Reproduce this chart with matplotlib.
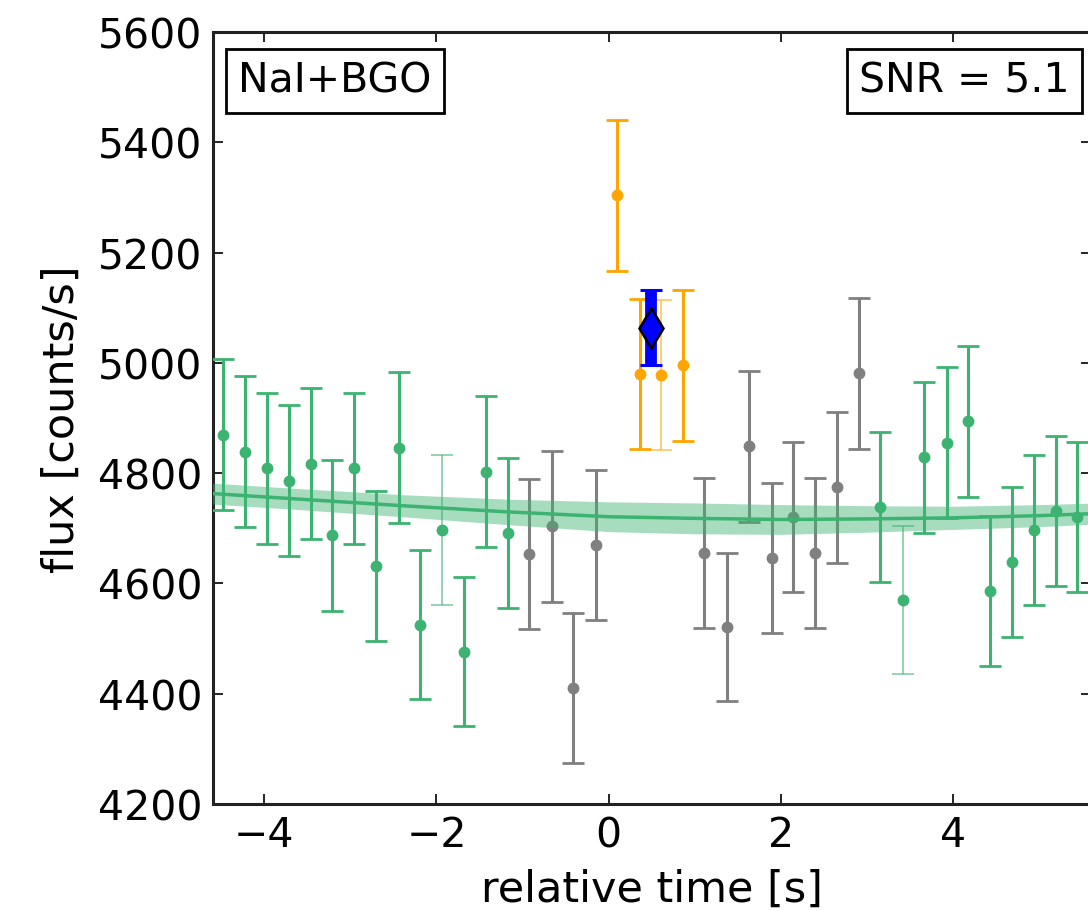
import matplotlib
matplotlib.use("Agg")
import matplotlib.pyplot as plt
from matplotlib.colors import to_rgba
import numpy as np

GREEN = "#3cb371"
GRAY = "#808080"
ORANGE = "#ffa500"
BLUE = "#0000ff"

# background bins before the source window (green)
t_pre = [-4.48, -4.22, -3.97, -3.71, -3.46, -3.21, -2.96, -2.70, -2.44,
         -2.19, -1.93, -1.68, -1.43, -1.17]
f_pre = [4870, 4839, 4809, 4786, 4817, 4687, 4809, 4632, 4846,
         4525, 4697, 4476, 4803, 4691]

# excluded bins (gray)
t_gap = [-0.92, -0.66, -0.41, -0.15, 1.11, 1.37, 1.63, 1.89, 2.14, 2.39, 2.65, 2.90]
f_gap = [4653, 4704, 4410, 4670, 4656, 4521, 4849, 4647, 4721, 4655, 4774, 4981]

# source bins (orange)
t_src = [0.10, 0.36, 0.61, 0.86]
f_src = [5304, 4980, 4978, 4996]

# background bins after the source window (green)
t_post = [3.15, 3.41, 3.66, 3.92, 4.17, 4.43, 4.68, 4.93, 5.19, 5.44]
f_post = [4739, 4570, 4829, 4855, 4894, 4586, 4638, 4697, 4731, 4721]

# per-bin error, counts/s
err_pre = [137, 137, 137, 137, 137, 137, 137, 136, 137, 135, 136, 135, 137, 136]
err_gap = [136, 137, 136, 136, 136, 135, 137, 136, 136, 136, 137, 137]
err_src = [137, 136, 136, 137]
err_post = [136, 134, 137, 137, 137, 136, 136, 136, 136, 136]

# combined source point (blue diamond)
t_comb = [0.49]
f_comb = [5064]
err_comb = [68]

# fitted background model
t_bkg = [-4.7, -3.6, -2.4, -1.2, 0.0, 1.0, 2.0, 3.0, 4.0, 5.0, 5.7]
f_bkg = [4764, 4753, 4741, 4730, 4721, 4718, 4716, 4717, 4719, 4723, 4727]
w_bkg = [19, 19, 20, 23, 27, 28, 27, 24, 21, 20, 19]

# bins drawn with a faint bar in the original
faint = {("pre", 10), ("src", 2), ("post", 1)}

fig = plt.figure(figsize=(10.88, 9.12), dpi=100)
ax = fig.add_axes([0.196, 0.1173, 0.807, 0.8465])


def draw_group(name, t, f, e, color):
    for i, (ti, fi, ei) in enumerate(zip(t, f, e)):
        thin = (name, i) in faint
        ax.errorbar([ti], [fi], yerr=[ei], fmt="o", color=color, ms=7.5,
                    ecolor=to_rgba(color, 0.7 if thin else 1.0),
                    elinewidth=1.1 if thin else 2.2, capsize=8,
                    capthick=1.1 if thin else 2.0, zorder=3)


draw_group("pre", t_pre, f_pre, err_pre, GREEN)
draw_group("gap", t_gap, f_gap, err_gap, GRAY)
draw_group("src", t_src, f_src, err_src, ORANGE)
draw_group("post", t_post, f_post, err_post, GREEN)

bkg = np.array(f_bkg)
wid = np.array(w_bkg)
ax.fill_between(t_bkg, bkg - wid, bkg + wid, color=GREEN, alpha=0.45, lw=0, zorder=4)
ax.plot(t_bkg, bkg, color=GREEN, lw=2.5, zorder=4)

ax.errorbar(t_comb, f_comb, yerr=err_comb, fmt="none", ecolor=BLUE,
            elinewidth=8.5, capsize=8, capthick=2.2, zorder=5)
ax.plot(t_comb, f_comb, marker="d", ms=20, mfc=BLUE, mec="black", mew=1.8,
        ls="none", zorder=6)

ax.set_xlim(-4.59, 5.60)
ax.set_ylim(4200, 5600)
ax.set_xticks([-4, -2, 0, 2, 4])
ax.set_yticks(range(4200, 5601, 200))
ax.set_xticklabels(["\u22124", "\u22122", "0", "2", "4"])

for s in ax.spines.values():
    s.set_linewidth(2.2)
    s.set_color("#222222")
ax.tick_params(direction="in", length=7, width=1.2, top=True, right=True,
               labelsize=29.5, pad=8)

ax.set_xlabel("relative time [s]", fontsize=31, labelpad=9)
ax.set_ylabel("flux [counts/s]", fontsize=31, labelpad=11)

box = dict(boxstyle="square,pad=0.3", fc="white", ec="black", lw=2)
ax.text(0.0285, 0.9625, "NaI+BGO", transform=ax.transAxes, fontsize=29.5,
        ha="left", va="top", bbox=box, zorder=7)
ax.text(0.975, 0.9625, "SNR = 5.1", transform=ax.transAxes, fontsize=29.5,
        ha="right", va="top", bbox=box, zorder=7)

fig.savefig("out.png", dpi=100, facecolor="white")
